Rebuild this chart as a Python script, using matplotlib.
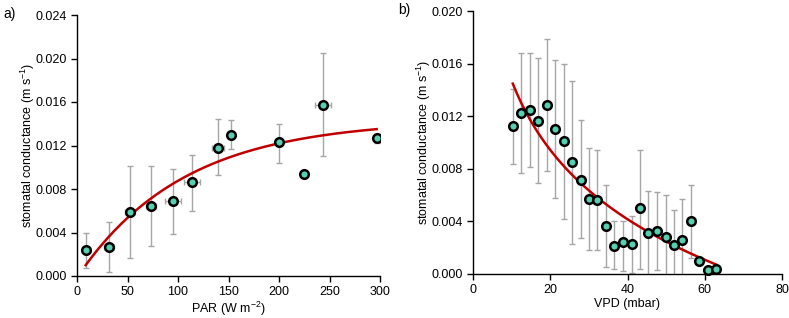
import numpy as np
import matplotlib.pyplot as plt

plt.rcParams['font.family'] = ['Liberation Sans', 'DejaVu Sans']

# panel a: conductance vs PAR
par = [8.6, 32, 52.5, 73.3, 95.4, 113.6, 140, 152.2, 200.3, 224.8, 243.3, 296.7]
par_err = [4, 5, 4.5, 5, 8, 8, 6, 0, 0, 0, 8, 0]
gs_a = [0.0024, 0.0027, 0.0059, 0.0064, 0.0069, 0.0086, 0.0118, 0.0130, 0.0123, 0.0094, 0.0157, 0.0127]
gs_a_hi = [0.0040, 0.0050, 0.0101, 0.0101, 0.0098, 0.0111, 0.0144, 0.0143, 0.0140, 0.0094, 0.0205, 0.0131]
gs_a_lo = [0.0007, 0.0004, 0.0017, 0.0028, 0.0039, 0.0060, 0.0093, 0.0117, 0.0104, 0.0094, 0.0110, 0.0122]

# panel b: conductance vs VPD
vpd = [10.3, 12.5, 14.8, 16.9, 19.2, 21.3, 23.6, 25.7, 27.9, 30.0, 32.2, 34.4, 36.5,
       38.8, 41.1, 43.2, 45.4, 47.6, 49.9, 52.0, 54.2, 56.4, 58.5, 60.8, 62.9]
gs_b = [0.01126, 0.01227, 0.0125, 0.01166, 0.01283, 0.01105, 0.0101, 0.0085, 0.00715,
        0.00568, 0.0056, 0.00365, 0.0021, 0.0024, 0.0023, 0.0050, 0.0031, 0.00325,
        0.0028, 0.0022, 0.0026, 0.0040, 0.0010, 0.0003, 0.0004]
gs_b_hi = [0.01405, 0.01683, 0.0168, 0.0164, 0.01785, 0.01627, 0.0160, 0.0147, 0.0117,
           0.0096, 0.0094, 0.0068, 0.0040, 0.0040, 0.0044, 0.0094, 0.0063, 0.0062,
           0.0060, 0.0049, 0.0057, 0.0068, 0.0010, 0.0003, 0.0004]
gs_b_lo = [0.0084, 0.00766, 0.0081, 0.0069, 0.0078, 0.0058, 0.0042, 0.0023, 0.0027,
           0.0018, 0.0018, 0.0005, 0.0004, 0.0002, 0.0001, 0.0004, -0.0001, 0.0003,
           -0.0001, -0.0001, -0.0001, 0.0012, 0.0010, 0.0003, 0.0004]

# fitted curves
fit_a = (0.01437, 0.01451, 0.0095)   # gs = A - B*exp(-k*PAR)
fit_b = (0.0322, 0.0076)             # gs = a - b*ln(VPD)

dot = '#55d0b0'
red = '#c00000'
grey = '#a6a6a6'

fig = plt.figure(figsize=(7.89, 3.18), dpi=100)
axa = fig.add_axes([77/789, 42/318, 303/789, 261/318])
axb = fig.add_axes([473/789, 44/318, 309/789, 263/318])


def style(ax):
    for s in ['top', 'right']:
        ax.spines[s].set_visible(False)
    for s in ['left', 'bottom']:
        ax.spines[s].set_linewidth(1.0)
    ax.tick_params(direction='out', length=4, width=1, labelsize=9, pad=3.5)
    ax.set_ylabel('stomatal conductance (m s$^{\\mathregular{-1}}$)', fontsize=9, labelpad=-1.5)
    ax.xaxis.labelpad = 1


def errs(y, hi, lo):
    y = np.array(y)
    return [y - np.array(lo), np.array(hi) - y]


# a)
axa.errorbar(par, gs_a, yerr=errs(gs_a, gs_a_hi, gs_a_lo), xerr=par_err, fmt='none',
             ecolor=grey, elinewidth=1, capsize=2.5, capthick=1, zorder=1)
xa = np.linspace(par[0], par[-1], 200)
axa.plot(xa, fit_a[0] - fit_a[1] * np.exp(-fit_a[2] * xa), color=red, lw=1.8, zorder=2)
axa.plot(par, gs_a, 'o', ms=6.2, mfc=dot, mec='black', mew=1.8, zorder=3)
axa.set_xlim(0, 300)
axa.set_ylim(0, 0.024)
axa.set_xticks(range(0, 301, 50))
axa.set_yticks(np.arange(0, 0.0241, 0.004))
axa.yaxis.set_major_formatter(plt.FormatStrFormatter('%.3f'))
axa.set_xlabel('PAR (W m$^{\\mathregular{-2}}$)', fontsize=9)
style(axa)

# b)
axb.errorbar(vpd, gs_b, yerr=errs(gs_b, gs_b_hi, gs_b_lo), fmt='none',
             ecolor=grey, elinewidth=1, capsize=2.5, capthick=1, zorder=1, clip_on=True)
xb = np.linspace(vpd[0], vpd[-1], 200)
axb.plot(xb, fit_b[0] - fit_b[1] * np.log(xb), color=red, lw=1.8, zorder=2)
axb.plot(vpd, gs_b, 'o', ms=6.2, mfc=dot, mec='black', mew=1.8, zorder=3, clip_on=False)
axb.set_xlim(0, 80)
axb.set_ylim(0, 0.020)
axb.set_xticks(range(0, 81, 20))
axb.set_yticks(np.arange(0, 0.0201, 0.004))
axb.yaxis.set_major_formatter(plt.FormatStrFormatter('%.3f'))
axb.set_xlabel('VPD (mbar)', fontsize=9)
style(axb)

fig.text(3/789, 1 - 18/318, 'a)', fontsize=10)
fig.text(398/789, 1 - 14/318, 'b)', fontsize=10)

fig.savefig('out.png', dpi=100)
